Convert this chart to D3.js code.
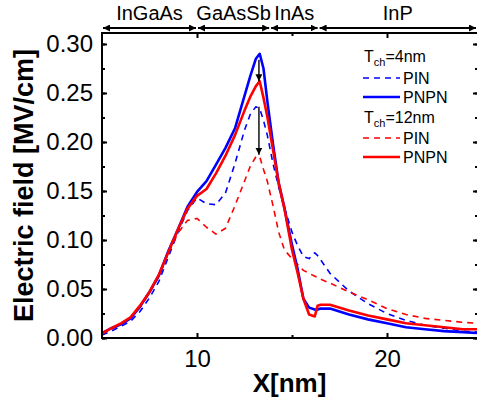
<!DOCTYPE html>
<html>
<head>
<meta charset="utf-8">
<script src="https://cdn.jsdelivr.net/npm/d3@7"></script>
<style>
  body { margin: 0; background: #fff; }
  svg { display: block; font-family: Arial, "Liberation Sans", sans-serif; }
</style>
</head>
<body>
<div id="chart"></div>
<script>
// position along the device, nm
const xs = [5, 5.5, 6, 6.5, 7, 7.5, 8, 8.5, 9, 9.5, 10, 10.5, 11, 11.5, 12, 12.5, 12.8, 13.1, 13.3, 13.5,
  13.7, 14, 14.3, 14.6, 15, 15.3, 15.6, 15.9, 16.2, 16.35, 16.5, 17, 18, 19, 20, 21, 22, 23, 24, 24.8];

// electric field, MV/cm
const pin4 = [0.003, 0.007, 0.012, 0.017, 0.027, 0.041, 0.058, 0.083, 0.108, 0.130, 0.143, 0.137, 0.136, 0.148,
  0.178, 0.212, 0.228, 0.236, 0.234, 0.222, 0.207, 0.178, 0.154, 0.133, 0.108, 0.094, 0.083, 0.081, 0.087, 0.084,
  0.080, 0.066, 0.048, 0.035, 0.025, 0.018, 0.013, 0.010, 0.007, 0.006];
const pnpn4 = [0.005, 0.010, 0.014, 0.020, 0.032, 0.047, 0.064, 0.089, 0.111, 0.134, 0.149, 0.160, 0.177, 0.194,
  0.214, 0.247, 0.267, 0.285, 0.290, 0.275, 0.242, 0.198, 0.158, 0.133, 0.095, 0.070, 0.040, 0.031, 0.029, 0.029,
  0.030, 0.030, 0.024, 0.019, 0.015, 0.011, 0.009, 0.007, 0.006, 0.005];
const pin12 = [0.004, 0.009, 0.014, 0.020, 0.031, 0.046, 0.063, 0.087, 0.107, 0.120, 0.122, 0.113, 0.106, 0.112,
  0.135, 0.160, 0.175, 0.185, 0.185, 0.172, 0.160, 0.135, 0.108, 0.090, 0.081, 0.075, 0.069, 0.066, 0.063, 0.062,
  0.060, 0.056, 0.047, 0.039, 0.030, 0.024, 0.020, 0.018, 0.016, 0.015];
const pnpn12 = [0.005, 0.010, 0.015, 0.021, 0.033, 0.047, 0.065, 0.088, 0.111, 0.132, 0.145, 0.152, 0.168, 0.186,
  0.207, 0.232, 0.246, 0.257, 0.262, 0.245, 0.226, 0.192, 0.158, 0.132, 0.090, 0.066, 0.040, 0.024, 0.022, 0.033,
  0.034, 0.034, 0.028, 0.023, 0.019, 0.015, 0.013, 0.011, 0.009, 0.009];

// material regions along the top
const layers = ['InGaAs', 'GaAsSb', 'InAs', 'InP'];
const layerEdges = [5, 10, 13.85, 16.4, 24.8];

// peak drop arrows: [x, from, to]
const drops = [[13.26, 0.284, 0.262], [13.26, 0.236, 0.187]];

const yTicks = [0, 0.05, 0.1, 0.15, 0.2, 0.25, 0.3];
const xTicks = [10, 20];

const width = 477;
const height = 400;
const mLeft = 102, mTop = 33, mRight = 478, mBottom = 338;

const x = d3.scaleLinear().domain([5, 24.79]).range([mLeft, mRight]);
const y = d3.scaleLinear().domain([0, 0.3112]).range([mBottom, mTop]);

const svg = d3.select('#chart')
  .append('svg')
  .attr('width', width)
  .attr('height', height);

const defs = svg.append('defs');
defs.append('clipPath').attr('id', 'plot')
  .append('rect')
  .attr('x', mLeft).attr('y', mTop)
  .attr('width', mRight - mLeft).attr('height', mBottom - mTop);

defs.append('marker')
  .attr('id', 'head')
  .attr('viewBox', '0 0 10 10')
  .attr('refX', 10).attr('refY', 5)
  .attr('markerWidth', 7).attr('markerHeight', 7)
  .attr('markerUnits', 'userSpaceOnUse')
  .attr('orient', 'auto-start-reverse')
  .append('path')
  .attr('d', 'M0,0 L10,5 L0,10 Z')
  .attr('fill', '#000');

// series
const line = d3.line()
  .x((d, i) => x(xs[i]))
  .y(d => y(d));

const series = [
  { values: pin4, color: '#0000ff', dash: '6,5', w: 1.6 },
  { values: pin12, color: '#ff0000', dash: '6,5', w: 1.6 },
  { values: pnpn4, color: '#0000ff', dash: null, w: 2.6 },
  { values: pnpn12, color: '#ff0000', dash: null, w: 2.6 }
];

svg.append('g')
  .attr('clip-path', 'url(#plot)')
  .selectAll('path')
  .data(series)
  .enter()
  .append('path')
  .attr('d', d => line(d.values))
  .attr('fill', 'none')
  .attr('stroke', d => d.color)
  .attr('stroke-width', d => d.w)
  .attr('stroke-dasharray', d => d.dash)
  .attr('stroke-linejoin', 'round');

// arrows between peaks
svg.selectAll('.drop')
  .data(drops)
  .enter()
  .append('line')
  .attr('class', 'drop')
  .attr('x1', d => x(d[0])).attr('x2', d => x(d[0]))
  .attr('y1', d => y(d[1])).attr('y2', d => y(d[2]))
  .attr('stroke', '#000')
  .attr('stroke-width', 1.4)
  .attr('marker-end', 'url(#head)');

// axes with inward ticks
const yMinor = d3.range(0, 0.31, 0.025);
const xMinor = [15];

svg.append('g')
  .attr('transform', `translate(${mLeft},0)`)
  .call(d3.axisLeft(y).tickValues(yMinor).tickSize(-3).tickFormat(''))
  .call(g => g.select('.domain').remove());
svg.append('g')
  .attr('transform', `translate(${mRight},0)`)
  .call(d3.axisRight(y).tickValues(yMinor).tickSize(-3).tickFormat(''))
  .call(g => g.select('.domain').remove());
svg.append('g')
  .attr('transform', `translate(${mRight},0)`)
  .call(d3.axisRight(y).tickValues(yTicks).tickSize(-5).tickFormat(''))
  .call(g => g.select('.domain').remove());

const yAxis = svg.append('g')
  .attr('transform', `translate(${mLeft},0)`)
  .call(d3.axisLeft(y).tickValues(yTicks).tickSize(-5).tickPadding(9).tickFormat(d3.format('.2f')));
yAxis.select('.domain').remove();
yAxis.selectAll('text').attr('font-size', 24).attr('font-family', 'Arial, "Liberation Sans", sans-serif');

svg.append('g')
  .attr('transform', `translate(0,${mBottom})`)
  .call(d3.axisBottom(x).tickValues(xMinor).tickSize(-3).tickFormat(''))
  .call(g => g.select('.domain').remove());
svg.append('g')
  .attr('transform', `translate(0,${mTop})`)
  .call(d3.axisTop(x).tickValues(xMinor).tickSize(-3).tickFormat(''))
  .call(g => g.select('.domain').remove());
svg.append('g')
  .attr('transform', `translate(0,${mTop})`)
  .call(d3.axisTop(x).tickValues(xTicks).tickSize(-5).tickFormat(''))
  .call(g => g.select('.domain').remove());

const xAxis = svg.append('g')
  .attr('transform', `translate(0,${mBottom})`)
  .call(d3.axisBottom(x).tickValues(xTicks).tickSize(-5).tickPadding(12).tickFormat(d3.format('d')));
xAxis.select('.domain').remove();
xAxis.selectAll('text').attr('font-size', 24).attr('font-family', 'Arial, "Liberation Sans", sans-serif');

svg.selectAll('.tick line').attr('stroke', '#000').attr('stroke-width', 2);

// frame
svg.append('rect')
  .attr('x', mLeft).attr('y', mTop)
  .attr('width', mRight - mLeft).attr('height', mBottom - mTop)
  .attr('fill', 'none')
  .attr('stroke', '#000')
  .attr('stroke-width', 2);

// axis titles
svg.append('text')
  .attr('transform', `translate(33,${(mTop + mBottom) / 2}) rotate(-90)`)
  .attr('text-anchor', 'middle')
  .attr('font-size', 27)
  .attr('font-weight', 'bold')
  .text('Electric field [MV/cm]');

svg.append('text')
  .attr('x', (mLeft + 477) / 2)
  .attr('y', 392)
  .attr('text-anchor', 'middle')
  .attr('font-size', 26)
  .attr('font-weight', 'bold')
  .text('X[nm]');

// material regions
const regionY = 28;
const regions = layers.map((name, i) => ({ name, a: layerEdges[i], b: layerEdges[i + 1] }));

svg.selectAll('.region')
  .data(regions)
  .enter()
  .append('line')
  .attr('class', 'region')
  .attr('x1', d => x(d.a) + 1).attr('x2', d => Math.min(x(d.b), 477) - 1)
  .attr('y1', regionY).attr('y2', regionY)
  .attr('stroke', '#000')
  .attr('stroke-width', 2)
  .attr('marker-start', 'url(#head)')
  .attr('marker-end', 'url(#head)');

svg.selectAll('.region-label')
  .data(regions)
  .enter()
  .append('text')
  .attr('class', 'region-label')
  .attr('x', d => (x(d.a) + Math.min(x(d.b), 477)) / 2)
  .attr('y', 20)
  .attr('text-anchor', 'middle')
  .attr('font-size', 20)
  .text(d => d.name);

// legend
const legend = svg.append('g').attr('font-size', 16);
const legendRows = [
  { kind: 'title', t: '4nm', yy: 62 },
  { kind: 'line', label: 'PIN', color: '#0000ff', dash: '6,5', w: 1.6, yy: 78 },
  { kind: 'line', label: 'PNPN', color: '#0000ff', dash: null, w: 2.6, yy: 97 },
  { kind: 'title', t: '12nm', yy: 123 },
  { kind: 'line', label: 'PIN', color: '#ff0000', dash: '6,5', w: 1.6, yy: 138 },
  { kind: 'line', label: 'PNPN', color: '#ff0000', dash: null, w: 2.6, yy: 157 }
];

legendRows.forEach(r => {
  if (r.kind === 'title') {
    const t = legend.append('text').attr('x', 364).attr('y', r.yy);
    t.append('tspan').text('T');
    t.append('tspan').attr('font-size', 11).attr('dy', 4).text('ch');
    t.append('tspan').attr('dy', -4).text('=' + r.t);
  } else {
    legend.append('line')
      .attr('x1', 363).attr('x2', 400)
      .attr('y1', r.yy).attr('y2', r.yy)
      .attr('stroke', r.color)
      .attr('stroke-width', r.w)
      .attr('stroke-dasharray', r.dash);
    legend.append('text')
      .attr('x', 403).attr('y', r.yy + 6)
      .text(r.label);
  }
});
</script>
</body>
</html>
